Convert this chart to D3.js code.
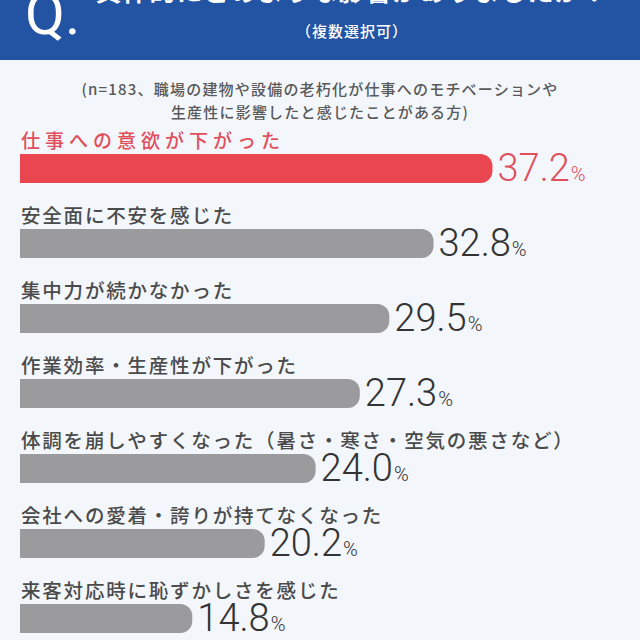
<!DOCTYPE html>
<html>
<head>
<meta charset="utf-8">
<script src="https://cdn.jsdelivr.net/npm/d3@7"></script>
<style>
  body { margin: 0; background: #f3f6fb; }
  svg { display: block; }
</style>
</head>
<body>
<div id="chart"></div>
<script>
const categories = [
  "仕事への意欲が下がった",
  "安全面に不安を感じた",
  "集中力が続かなかった",
  "作業効率・生産性が下がった",
  "体調を崩しやすくなった（暑さ・寒さ・空気の悪さなど）",
  "会社への愛着・誇りが持てなくなった",
  "来客対応時に恥ずかしさを感じた",
];
const values = [37.2, 32.8, 29.5, 27.3, 24.0, 20.2, 14.8];
const titleText = "具体的にどのような影響がありましたか？";
const subTitle = "（複数選択可）";
const noteLines = [
  "(n=183、職場の建物や設備の老朽化が仕事へのモチベーションや",
  "生産性に影響したと感じたことがある方)",
];

const width = 640;
const height = 640;
const jp = "'Noto Sans CJK JP', 'Noto Sans', sans-serif";

const svg = d3
  .select("#chart")
  .append("svg")
  .attr("width", width)
  .attr("height", height);

svg.append("rect").attr("width", width).attr("height", height).attr("fill", "#f3f6fb");

// header band (top is cut off in the source)
svg.append("rect").attr("x", 0).attr("y", 0).attr("width", width).attr("height", 60).attr("fill", "#2353a3");

svg
  .append("text")
  .attr("x", 25)
  .attr("y", 34)
  .attr("fill", "#fff")
  .style("font-family", "Roboto, sans-serif")
  .style("font-size", "58px")
  .style("font-weight", 400)
  .text("Q.");

svg
  .append("text")
  .attr("x", 352)
  .attr("y", 1)
  .attr("text-anchor", "middle")
  .attr("fill", "#fff")
  .style("font-family", jp)
  .style("font-size", "26px")
  .style("font-weight", 700)
  .style("letter-spacing", "1px")
  .text(titleText);

svg
  .append("text")
  .attr("x", 352)
  .attr("y", 37)
  .attr("text-anchor", "middle")
  .attr("fill", "#fff")
  .style("font-family", jp)
  .style("font-size", "15px")
  .style("font-weight", 500)
  .style("letter-spacing", "1px")
  .text(subTitle);

// note
svg
  .selectAll("text.note")
  .data(noteLines)
  .enter()
  .append("text")
  .attr("class", "note")
  .attr("x", 320)
  .attr("y", (d, i) => 95 + i * 23)
  .attr("text-anchor", "middle")
  .attr("fill", "#595959")
  .style("font-family", jp)
  .style("font-size", "15px")
  .style("font-weight", 500)
  .style("letter-spacing", "1.2px")
  .text((d) => d);

// scales
const x = d3.scaleLinear().domain([0, 40]).range([-6, 530]);
const y = d3.scaleBand().domain(categories).range([128, 128 + 75 * categories.length]);

const x0 = 20;
const barH = 29;
const r = 12;

const barPath = (v, top) => {
  const x1 = x(v);
  return (
    "M" + x0 + "," + top +
    "H" + (x1 - r) +
    "A" + r + "," + r + " 0 0 1 " + x1 + "," + (top + r) +
    "V" + (top + barH - r) +
    "A" + r + "," + r + " 0 0 1 " + (x1 - r) + "," + (top + barH) +
    "H" + x0 + "Z"
  );
};

const rows = svg
  .selectAll("g.row")
  .data(categories.map((c, i) => ({ cat: c, value: values[i], first: i === 0 })))
  .enter()
  .append("g")
  .attr("class", "row");

rows
  .append("text")
  .attr("x", 21)
  .attr("y", (d) => y(d.cat) + 20)
  .attr("fill", (d) => (d.first ? "#e14f5b" : "#4a4a4a"))
  .style("font-family", jp)
  .style("font-size", (d) => (d.first ? "19px" : "19.5px"))
  .style("font-weight", 500)
  .style("letter-spacing", (d) => (d.first ? "5px" : "1.8px"))
  .text((d) => d.cat);

rows
  .append("path")
  .attr("d", (d) => barPath(d.value, y(d.cat) + 26))
  .attr("fill", (d) => (d.first ? "#e9464f" : "#9b9b9d"));

const valText = rows
  .append("text")
  .attr("x", (d) => x(d.value) + 5)
  .attr("y", (d) => y(d.cat) + 26 + barH - 2)
  .attr("fill", (d) => (d.first ? "#df4f5c" : "#333"))
  .style("font-family", "Roboto, sans-serif")
  .style("font-weight", 300);

valText
  .append("tspan")
  .style("font-size", "38px")
  .text((d) => d.value.toFixed(1));

valText
  .append("tspan")
  .attr("dx", 1)
  .style("font-size", "20px")
  .text("%");
</script>
</body>
</html>
